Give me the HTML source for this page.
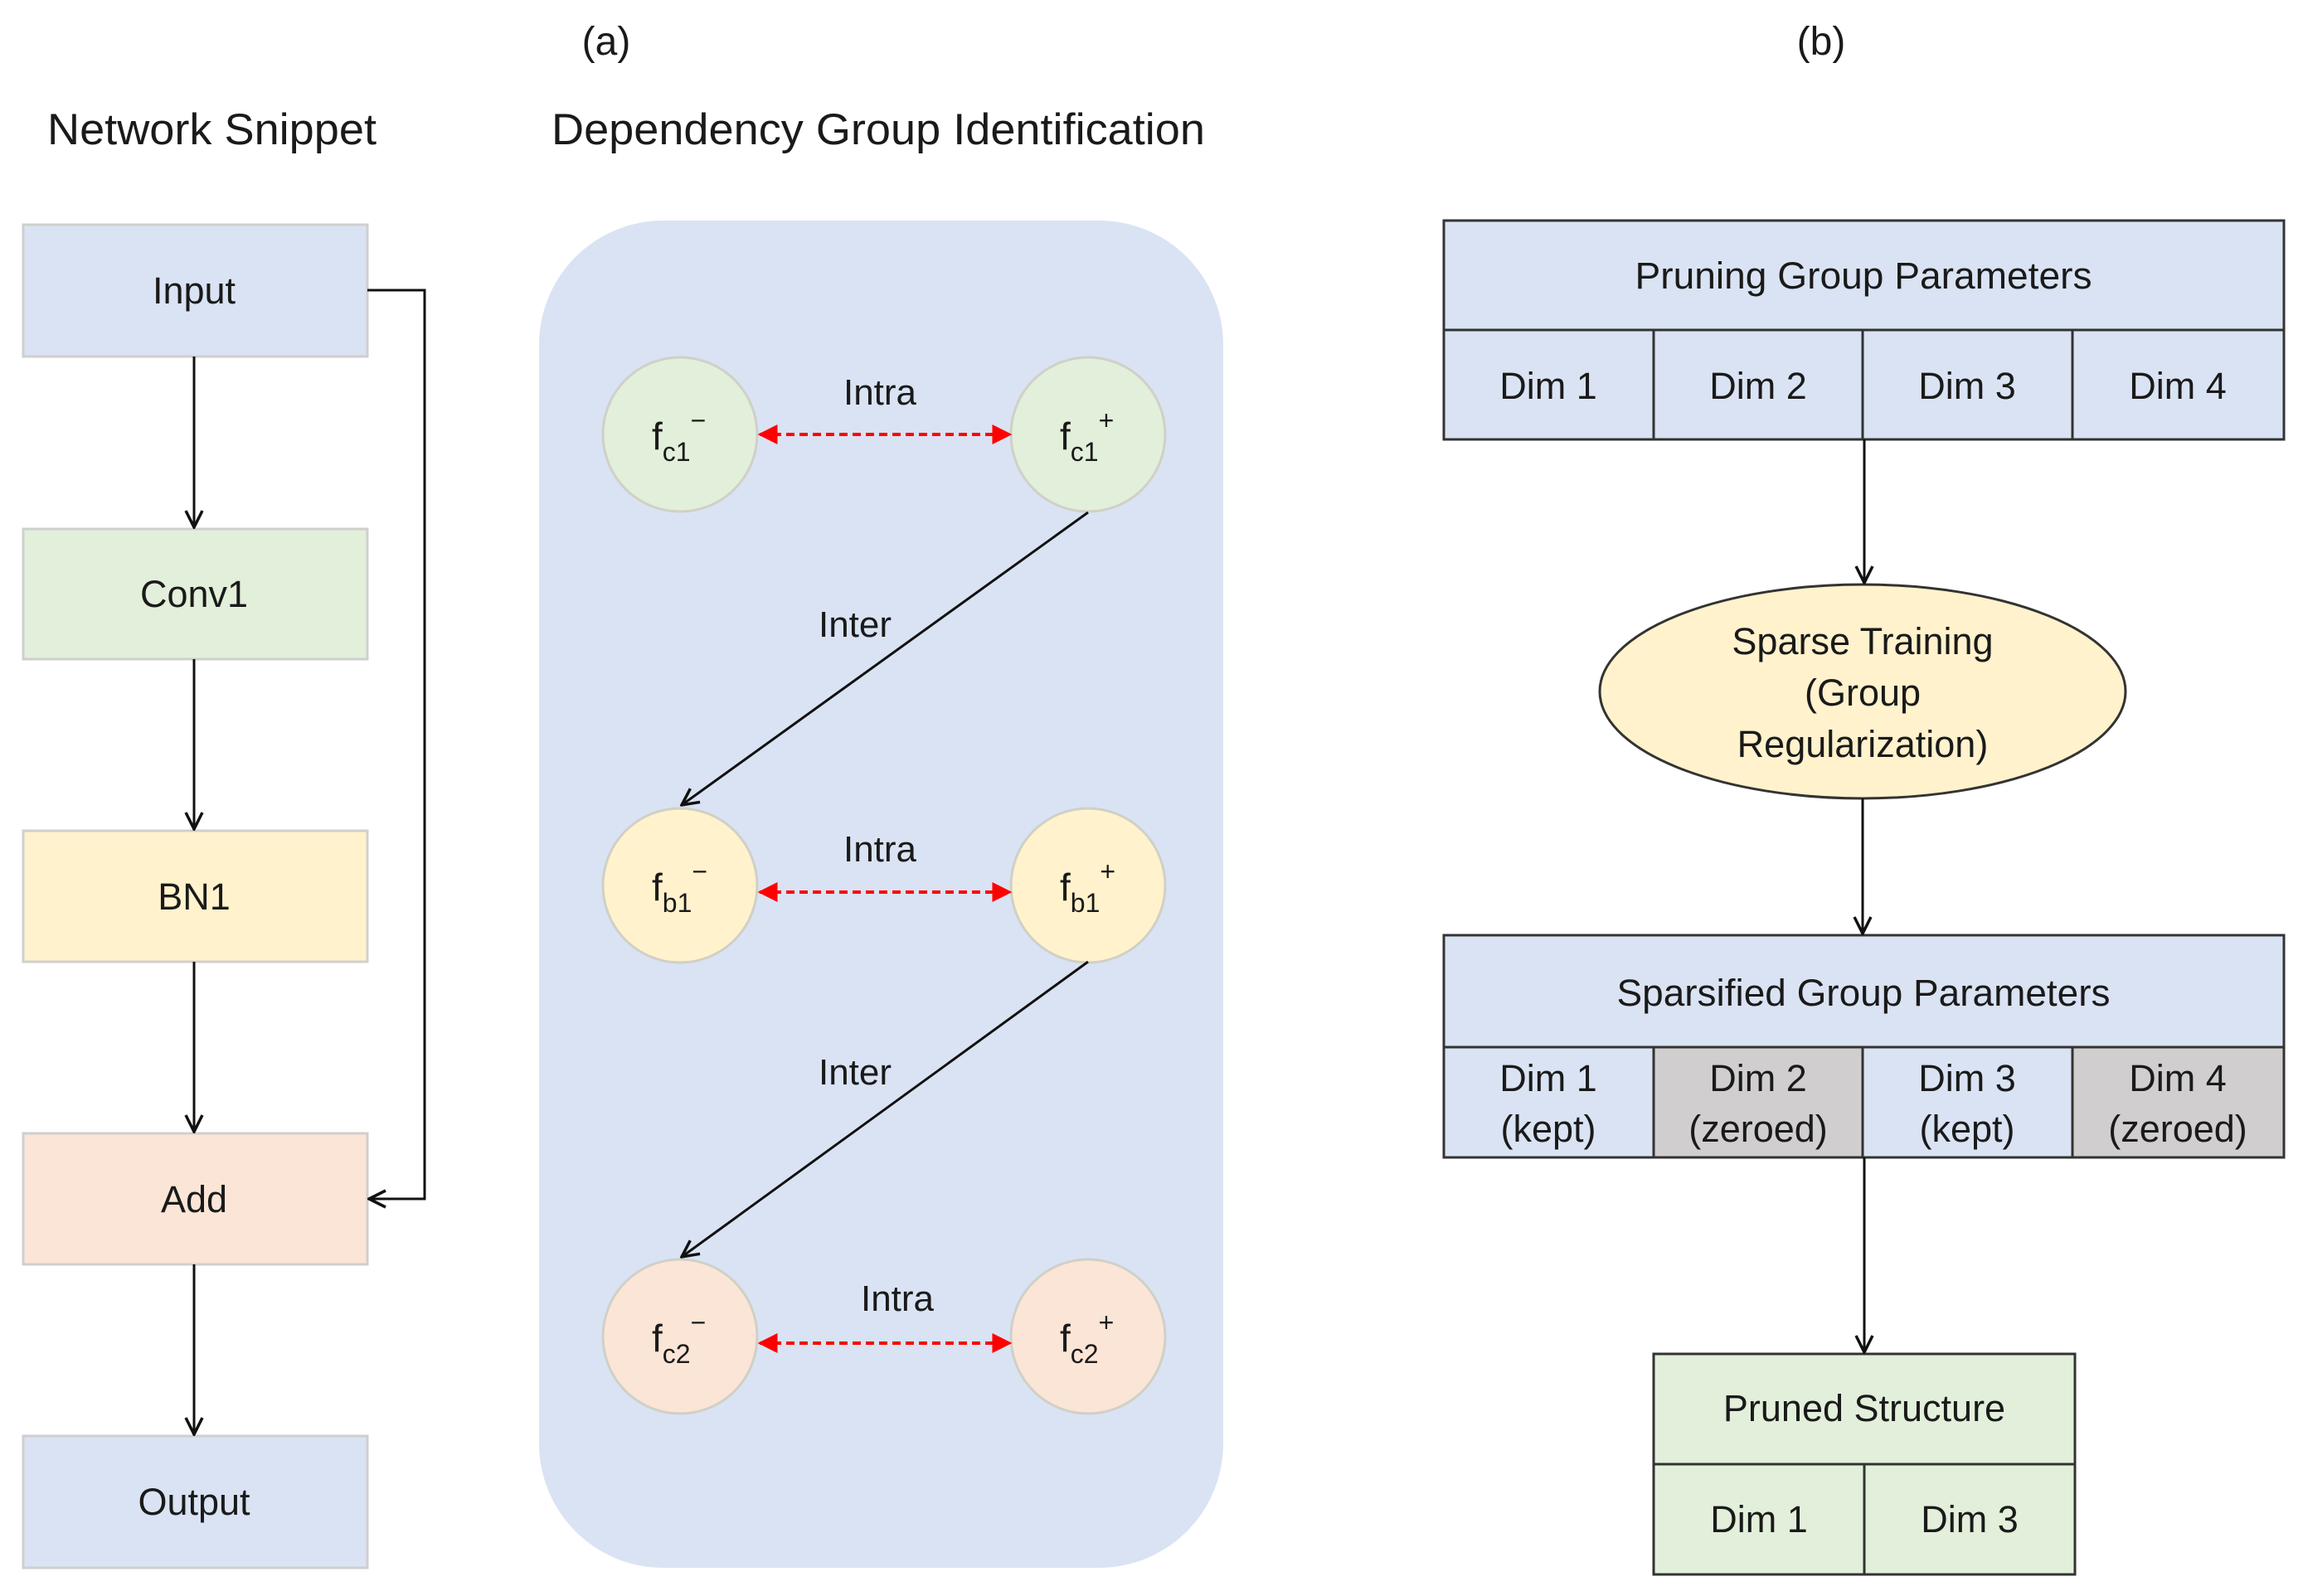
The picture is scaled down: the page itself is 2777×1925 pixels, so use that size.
<!DOCTYPE html>
<html><head><meta charset="utf-8"><style>
html,body{margin:0;padding:0;background:#fff;}
svg{display:block;}
text{font-family:"Liberation Sans",sans-serif;fill:#1a1a1a;}
</style></head><body>
<svg width="2777" height="1925" viewBox="0 0 2777 1925" xmlns="http://www.w3.org/2000/svg">
<defs>
<marker id="oa" viewBox="0 0 24 24" refX="22" refY="12" markerWidth="24" markerHeight="24" markerUnits="userSpaceOnUse" orient="auto">
<path d="M2,2 L22,12 L2,22" fill="none" stroke="#111" stroke-width="3.5"/></marker>
<marker id="ra" viewBox="0 0 10 10" refX="9" refY="5" markerWidth="24" markerHeight="24" markerUnits="userSpaceOnUse" orient="auto-start-reverse">
<path d="M0,0 L10,5 L0,10 z" fill="#f00"/></marker>
</defs>

<text x="731" y="66" font-size="48" text-anchor="middle">(a)</text>
<text x="2196" y="66" font-size="48" text-anchor="middle">(b)</text>
<text x="57" y="174" font-size="53" textLength="397" lengthAdjust="spacingAndGlyphs">Network Snippet</text>
<text x="665" y="174" font-size="53" textLength="788" lengthAdjust="spacingAndGlyphs">Dependency Group Identification</text>

<!-- left column -->
<g stroke="#cfcfcf" stroke-width="3">
<rect x="28" y="271" width="415" height="159" fill="#dae3f3"/>
<rect x="28" y="638" width="415" height="157" fill="#e2efda"/>
<rect x="28" y="1002" width="415" height="158" fill="#fff2cc"/>
<rect x="28" y="1367" width="415" height="158" fill="#fbe5d6"/>
<rect x="28" y="1732" width="415" height="159" fill="#dae3f3"/>
</g>
<g font-size="45" text-anchor="middle">
<text x="234" y="366">Input</text>
<text x="234" y="732">Conv1</text>
<text x="234" y="1097">BN1</text>
<text x="234" y="1462">Add</text>
<text x="234" y="1827">Output</text>
</g>
<g stroke="#111" stroke-width="3" fill="none" marker-end="url(#oa)">
<line x1="234" y1="430" x2="234" y2="636"/>
<line x1="234" y1="795" x2="234" y2="1000"/>
<line x1="234" y1="1160" x2="234" y2="1365"/>
<line x1="234" y1="1525" x2="234" y2="1730"/>
<polyline points="443,350 512,350 512,1446 445,1446"/>
</g>

<!-- dependency panel -->
<rect x="650" y="266" width="825" height="1625" rx="150" fill="#dae3f3"/>
<g stroke="#d0d0c8" stroke-width="3">
<ellipse cx="820" cy="524" rx="93" ry="93" fill="#e2efda"/>
<ellipse cx="1312" cy="524" rx="93" ry="93" fill="#e2efda"/>
<ellipse cx="820" cy="1068" rx="93" ry="93" fill="#fff2cc"/>
<ellipse cx="1312" cy="1068" rx="93" ry="93" fill="#fff2cc"/>
<ellipse cx="820" cy="1612" rx="93" ry="93" fill="#fbe5d6"/>
<ellipse cx="1312" cy="1612" rx="93" ry="93" fill="#fbe5d6"/>
</g>
<g stroke="#f00" stroke-width="4" stroke-dasharray="10,6" marker-start="url(#ra)" marker-end="url(#ra)">
<line x1="916" y1="524" x2="1218" y2="524"/>
<line x1="916" y1="1076" x2="1218" y2="1076"/>
<line x1="916" y1="1620" x2="1218" y2="1620"/>
</g>
<g stroke="#111" stroke-width="3" marker-end="url(#oa)">
<line x1="1312" y1="618" x2="822" y2="971"/>
<line x1="1312" y1="1160" x2="822" y2="1516"/>
</g>
<g font-size="44" text-anchor="middle">
<text x="1061" y="488">Intra</text>
<text x="1061" y="1039">Intra</text>
<text x="1082" y="1581">Intra</text>
<text x="1031" y="768">Inter</text>
<text x="1031" y="1308">Inter</text>
</g>
<g font-size="46">
<text x="786" y="542">f<tspan font-size="32" dy="14">c1</tspan><tspan font-size="32" dy="-38">−</tspan></text>
<text x="1278" y="542">f<tspan font-size="32" dy="14">c1</tspan><tspan font-size="32" dy="-38">+</tspan></text>
<text x="786" y="1086">f<tspan font-size="32" dy="14">b1</tspan><tspan font-size="32" dy="-38">−</tspan></text>
<text x="1278" y="1086">f<tspan font-size="32" dy="14">b1</tspan><tspan font-size="32" dy="-38">+</tspan></text>
<text x="786" y="1630">f<tspan font-size="32" dy="14">c2</tspan><tspan font-size="32" dy="-38">−</tspan></text>
<text x="1278" y="1630">f<tspan font-size="32" dy="14">c2</tspan><tspan font-size="32" dy="-38">+</tspan></text>
</g>

<!-- right side -->
<g stroke="#333" stroke-width="3">
<rect x="1741" y="266" width="1013" height="132" fill="#dae3f3"/>
<rect x="1741" y="398" width="1013" height="132" fill="#dae3f3"/>
<line x1="1994" y1="398" x2="1994" y2="530"/>
<line x1="2246" y1="398" x2="2246" y2="530"/>
<line x1="2499" y1="398" x2="2499" y2="530"/>
<ellipse cx="2246" cy="834" rx="317" ry="129" fill="#fff2cc"/>
<rect x="1741" y="1128" width="1013" height="135" fill="#dae3f3"/>
<rect x="1741" y="1263" width="253" height="133" fill="#dae3f3"/>
<rect x="1994" y="1263" width="252" height="133" fill="#d0cece"/>
<rect x="2246" y="1263" width="253" height="133" fill="#dae3f3"/>
<rect x="2499" y="1263" width="255" height="133" fill="#d0cece"/>
<rect x="1994" y="1633" width="508" height="133" fill="#e2efda"/>
<rect x="1994" y="1766" width="254" height="133" fill="#e2efda"/>
<rect x="2248" y="1766" width="254" height="133" fill="#e2efda"/>
</g>
<g stroke="#111" stroke-width="3" marker-end="url(#oa)">
<line x1="2248" y1="530" x2="2248" y2="703"/>
<line x1="2246" y1="963" x2="2246" y2="1126"/>
<line x1="2248" y1="1396" x2="2248" y2="1631"/>
</g>
<g font-size="45" text-anchor="middle">
<text x="2247" y="348" textLength="551" lengthAdjust="spacingAndGlyphs">Pruning Group Parameters</text>
<text x="1867" y="481">Dim 1</text>
<text x="2120" y="481">Dim 2</text>
<text x="2372" y="481">Dim 3</text>
<text x="2626" y="481">Dim 4</text>
<text x="2246" y="789">Sparse Training</text>
<text x="2246" y="851">(Group</text>
<text x="2246" y="913">Regularization)</text>
<text x="2247" y="1213" textLength="595" lengthAdjust="spacingAndGlyphs">Sparsified Group Parameters</text>
<text x="1867" y="1316">Dim 1</text>
<text x="1867" y="1377">(kept)</text>
<text x="2120" y="1316">Dim 2</text>
<text x="2120" y="1377">(zeroed)</text>
<text x="2372" y="1316">Dim 3</text>
<text x="2372" y="1377">(kept)</text>
<text x="2626" y="1316">Dim 4</text>
<text x="2626" y="1377">(zeroed)</text>
<text x="2248" y="1714">Pruned Structure</text>
<text x="2121" y="1848">Dim 1</text>
<text x="2375" y="1848">Dim 3</text>
</g>
</svg>
</body></html>
